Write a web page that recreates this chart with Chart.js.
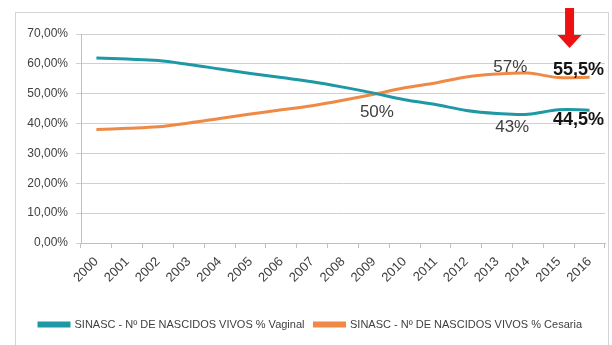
<!DOCTYPE html>
<html>
<head>
<meta charset="utf-8">
<script src="https://cdn.jsdelivr.net/npm/chart.js@4"></script>
<style>
  html, body { margin: 0; padding: 0; background: #fff; }
  #wrap { position: relative; width: 612px; height: 345px; }
  #frame { position: absolute; left: 15px; top: 12px; width: 594px; height: 340px; border: 1px solid #d4d4d4; box-sizing: border-box; }
  canvas { position: absolute; left: 0; top: 0; }
</style>
</head>
<body>
<div id="wrap">
  <div id="frame"></div>
  <canvas id="myChart" width="612" height="345"></canvas>
</div>
<script>
const anos = ['2000','2001','2002','2003','2004','2005','2006','2007','2008','2009','2010','2011','2012','2013','2014','2015','2016'];
const vaginal = [62.0, 61.6, 61.1, 59.8, 58.3, 56.8, 55.4, 54.0, 52.2, 50.2, 48.0, 46.4, 44.4, 43.4, 43.1, 44.6, 44.5];
const cesaria = [38.0, 38.4, 38.9, 40.2, 41.7, 43.2, 44.6, 46.0, 47.8, 49.8, 52.0, 53.6, 55.6, 56.6, 56.9, 55.4, 55.5];
const yTicks = [0, 10, 20, 30, 40, 50, 60, 70];

// textos de destaque: [posicao no eixo x (indice), valor, texto, negrito]
const destaques = [
    [9.1, 43.7, '50%', false],
    [13.43, 58.8, '57%', false],
    [13.49, 38.9, '43%', false],
    [15.64, 57.8, '55,5%', true],
    [15.64, 41.3, '44,5%', true]
];
const setaPos = 15.35;
const setaPonta = 65.3;

const destaquePlugin = {
    id: 'destaques',
    afterDatasetsDraw(chart) {
        const ctx = chart.ctx;
        const x = chart.scales.x;
        const y = chart.scales.y;
        ctx.save();
        ctx.textAlign = 'center';
        ctx.textBaseline = 'middle';
        destaques.forEach(d => {
            const px = x.getPixelForValue(d[0]);
            const py = y.getPixelForValue(d[1]);
            ctx.font = (d[3] ? 'bold 18px ' : '17px ') + '"Liberation Sans", Arial, sans-serif';
            ctx.fillStyle = d[3] ? '#151515' : '#404040';
            ctx.fillText(d[2], px, py);
        });
        // seta vermelha
        const ax = x.getPixelForValue(setaPos);
        const tip = y.getPixelForValue(setaPonta);
        ctx.fillStyle = '#ee1111';
        ctx.beginPath();
        ctx.moveTo(ax - 4.5, 8);
        ctx.lineTo(ax + 4.5, 8);
        ctx.lineTo(ax + 4.5, tip - 13);
        ctx.lineTo(ax + 12, tip - 13);
        ctx.lineTo(ax, tip);
        ctx.lineTo(ax - 12, tip - 13);
        ctx.lineTo(ax - 4.5, tip - 13);
        ctx.closePath();
        ctx.fill();
        ctx.restore();
    }
};

const ctx = document.getElementById('myChart').getContext('2d');
const myChart = new Chart(ctx, {
    type: 'line',
    data: {
        labels: anos,
        datasets: [
            {
                label: 'SINASC - Nº DE NASCIDOS VIVOS % Vaginal',
                data: vaginal,
                borderColor: '#1f98a6',
                backgroundColor: '#1f98a6',
                borderWidth: 3,
                pointRadius: 0,
                tension: 0.35,
                fill: false
            },
            {
                label: 'SINASC - Nº DE NASCIDOS VIVOS % Cesaria',
                data: cesaria,
                borderColor: '#ee8a45',
                backgroundColor: '#ee8a45',
                borderWidth: 3,
                pointRadius: 0,
                tension: 0.35,
                fill: false
            }
        ]
    },
    options: {
        responsive: false,
        animation: false,
        layout: { padding: { left: 16, right: 7, top: 34, bottom: 5 } },
        plugins: {
            tooltip: { enabled: false },
            legend: {
                position: 'bottom',
                labels: {
                    boxWidth: 30,
                    boxHeight: 3,
                    padding: 10,
                    color: '#404040',
                    font: { size: 11, family: '"Liberation Sans", Arial, sans-serif' }
                }
            }
        },
        scales: {
            x: {
                offset: true,
                grid: { offset: true, drawOnChartArea: false, color: '#bfbfbf', tickLength: 5 },
                border: { color: '#bfbfbf' },
                ticks: {
                    autoSkip: false,
                    maxRotation: 45,
                    minRotation: 45,
                    padding: 6,
                    color: '#404040',
                    font: { size: 13, family: '"Liberation Sans", Arial, sans-serif' }
                },
                afterFit(scale) { scale.height = 66; }
            },
            y: {
                min: 0,
                max: 70,
                afterBuildTicks(scale) { scale.ticks = yTicks.map(v => ({ value: v })); },
                grid: { color: '#d0d0d0', tickLength: 5 },
                border: { color: '#bfbfbf' },
                ticks: {
                    color: '#404040',
                    padding: 8,
                    font: { size: 12, family: '"Liberation Sans", Arial, sans-serif' },
                    callback: v => v.toFixed(2).replace('.', ',') + '%'
                },
                afterFit(scale) { scale.width = 65; }
            }
        }
    },
    plugins: [destaquePlugin]
});
</script>
</body>
</html>
